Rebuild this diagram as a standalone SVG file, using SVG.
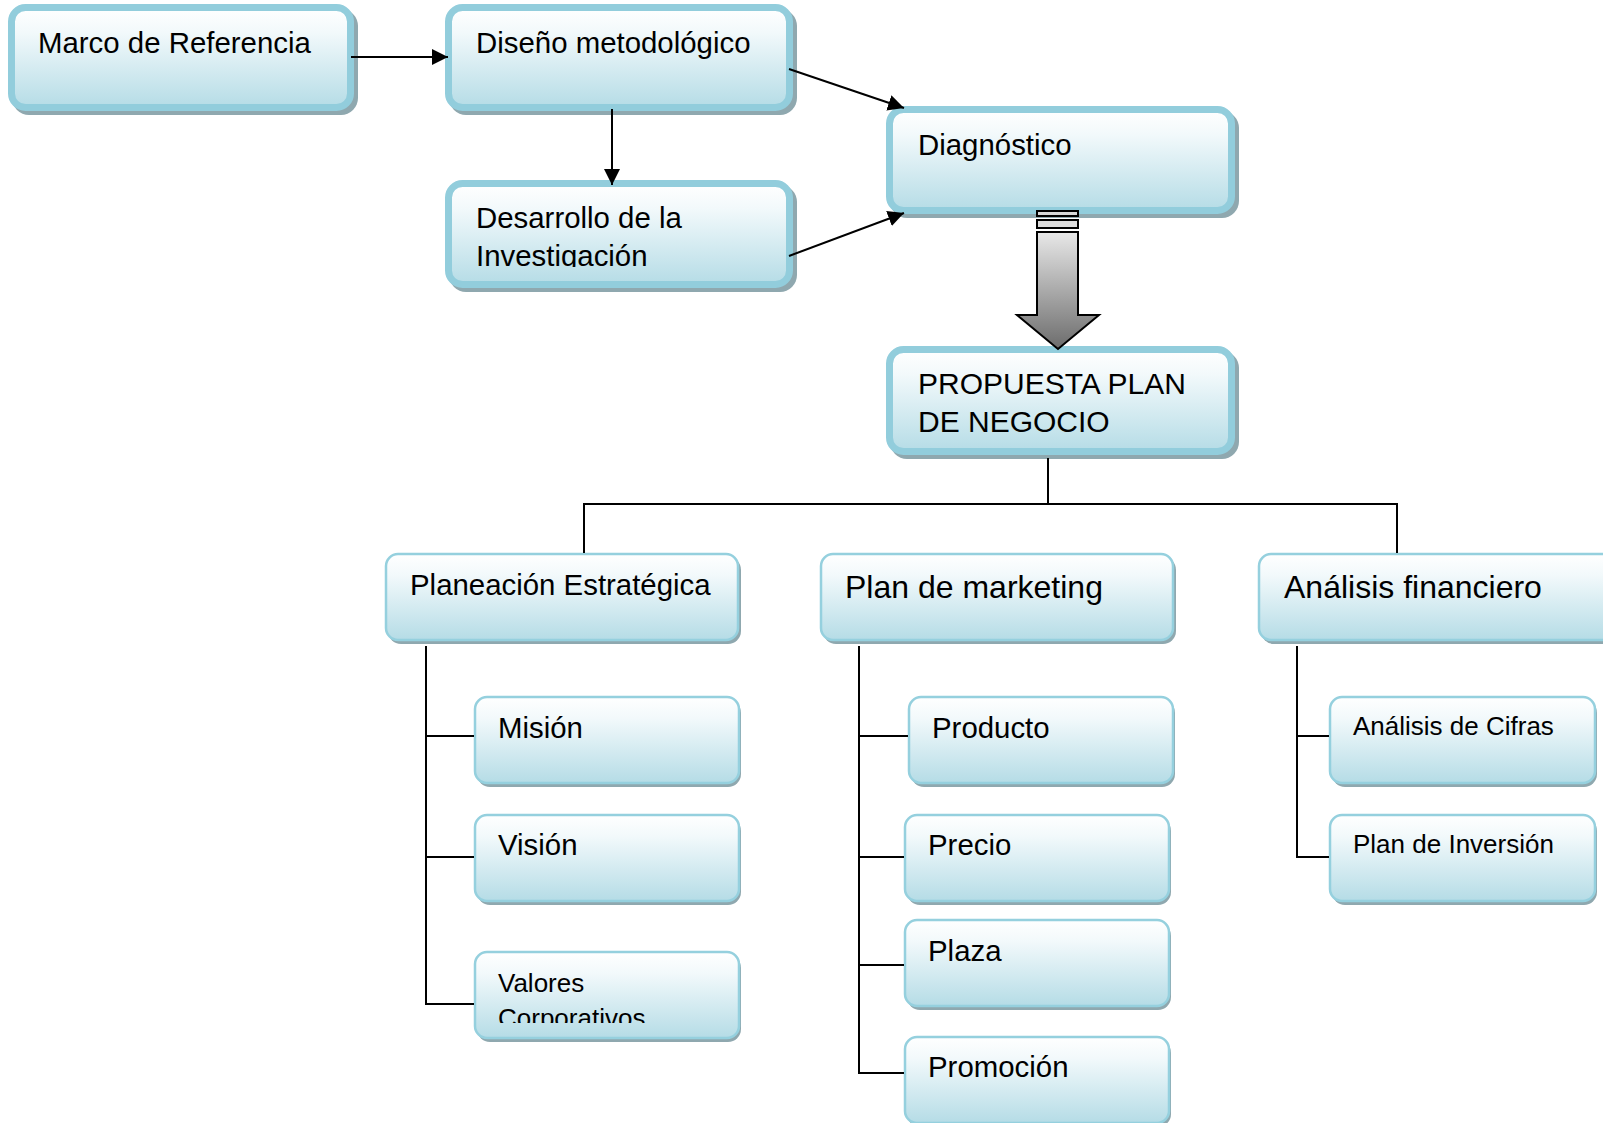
<svg xmlns="http://www.w3.org/2000/svg" width="1603" height="1123" viewBox="0 0 1603 1123">
<defs>
<linearGradient id="gBox" x1="0" y1="0" x2="0" y2="1">
<stop offset="0" stop-color="#ffffff"/>
<stop offset="0.25" stop-color="#f2f9fb"/>
<stop offset="1" stop-color="#b5dce6"/>
</linearGradient>
<linearGradient id="gArrow" x1="0" y1="0" x2="0" y2="1">
<stop offset="0" stop-color="#e8e8e8"/>
<stop offset="1" stop-color="#6c6c6c"/>
</linearGradient>
<marker id="ah" markerUnits="userSpaceOnUse" markerWidth="18" markerHeight="18" refX="16" refY="8" orient="auto">
<path d="M0,0 L16,8 L0,16 Z" fill="#000"/>
</marker>
<clipPath id="clipDes"><rect x="440" y="180" width="360" height="87"/></clipPath>
<clipPath id="clipVal"><rect x="470" y="950" width="280" height="73"/></clipPath>
</defs>
<style>
.sh{fill:#8fa8af}
.big{fill:url(#gBox);stroke:#92cddc;stroke-width:7}
.sm{fill:url(#gBox);stroke:#95d0de;stroke-width:2.5}
.t{font-family:"Liberation Sans",Arial,sans-serif;fill:#000}
.t29{font-size:29.4px}
.t32{font-size:32px}
.t26{font-size:26px}
.ln{fill:none;stroke:#000;stroke-width:2}
</style>

<g id="marco">
<rect class="sh" x="12" y="9" width="346" height="106" rx="17"/>
<rect class="big" x="11.5" y="7.5" width="339" height="100" rx="14"/>
<text class="t t29" x="38" y="53">Marco de Referencia</text>
</g>
<g id="diseno">
<rect class="sh" x="449" y="9" width="348" height="106" rx="17"/>
<rect class="big" x="448.5" y="7.5" width="341" height="100" rx="14"/>
<text class="t t29" x="476" y="53">Diseño metodológico</text>
</g>
<g id="desarrollo">
<rect class="sh" x="449" y="185" width="348" height="107" rx="17"/>
<rect class="big" x="448.5" y="183.5" width="341" height="101" rx="14"/>
<text class="t t29" clip-path="url(#clipDes)"><tspan x="476" y="228">Desarrollo de la</tspan><tspan x="476" y="266">Investigación</tspan></text>
</g>
<g id="diagnostico">
<rect class="sh" x="890" y="111" width="349" height="107" rx="17"/>
<rect class="big" x="889.5" y="109.5" width="342" height="101" rx="14"/>
<text class="t t29" x="918" y="155">Diagnóstico</text>
</g>
<g id="propuesta">
<rect class="sh" x="890" y="351" width="349" height="108" rx="17"/>
<rect class="big" x="889.5" y="349.5" width="342" height="102" rx="14"/>
<text class="t" font-size="30px"><tspan x="918" y="394">PROPUESTA PLAN</tspan><tspan x="918" y="432">DE NEGOCIO</tspan></text>
</g>

<g id="planeacion">
<rect class="sh" x="388" y="557" width="353" height="87" rx="13"/>
<rect class="sm" x="386" y="554" width="352" height="86" rx="12"/>
<text class="t t29" x="410" y="595">Planeación Estratégica</text>
</g>
<g id="marketing">
<rect class="sh" x="823" y="557" width="353" height="87" rx="13"/>
<rect class="sm" x="821" y="554" width="352" height="86" rx="12"/>
<text class="t t32" x="845" y="598">Plan de marketing</text>
</g>
<g id="financiero">
<rect class="sh" x="1261" y="557" width="360" height="87" rx="13"/>
<rect class="sm" x="1259" y="554" width="360" height="86" rx="12"/>
<text class="t t32" x="1284" y="598">Análisis financiero</text>
</g>

<g id="mision">
<rect class="sh" x="477" y="700" width="264" height="87" rx="13"/>
<rect class="sm" x="475" y="697" width="264" height="86" rx="12"/>
<text class="t t29" x="498" y="738">Misión</text>
</g>
<g id="vision">
<rect class="sh" x="477" y="818" width="264" height="87" rx="13"/>
<rect class="sm" x="475" y="815" width="264" height="86" rx="12"/>
<text class="t t29" x="498" y="855">Visión</text>
</g>
<g id="valores">
<rect class="sh" x="477" y="955" width="264" height="87" rx="13"/>
<rect class="sm" x="475" y="952" width="264" height="86" rx="12"/>
<text class="t t26" clip-path="url(#clipVal)"><tspan x="498" y="992">Valores</tspan><tspan x="498" y="1027">Corporativos</tspan></text>
</g>

<g id="producto">
<rect class="sh" x="911" y="700" width="264" height="87" rx="13"/>
<rect class="sm" x="909" y="697" width="264" height="86" rx="12"/>
<text class="t t29" x="932" y="738">Producto</text>
</g>
<g id="precio">
<rect class="sh" x="907" y="818" width="264" height="87" rx="13"/>
<rect class="sm" x="905" y="815" width="264" height="86" rx="12"/>
<text class="t t29" x="928" y="855">Precio</text>
</g>
<g id="plaza">
<rect class="sh" x="907" y="923" width="264" height="87" rx="13"/>
<rect class="sm" x="905" y="920" width="264" height="86" rx="12"/>
<text class="t t29" x="928" y="961">Plaza</text>
</g>
<g id="promocion">
<rect class="sh" x="907" y="1040" width="264" height="87" rx="13"/>
<rect class="sm" x="905" y="1037" width="264" height="86" rx="12"/>
<text class="t t29" x="928" y="1077">Promoción</text>
</g>

<g id="cifras">
<rect class="sh" x="1332" y="700" width="265" height="87" rx="13"/>
<rect class="sm" x="1330" y="697" width="265" height="86" rx="12"/>
<text class="t t26" x="1353" y="735">Análisis de Cifras</text>
</g>
<g id="inversion">
<rect class="sh" x="1332" y="818" width="265" height="87" rx="13"/>
<rect class="sm" x="1330" y="815" width="265" height="86" rx="12"/>
<text class="t t26" x="1353" y="853">Plan de Inversión</text>
</g>

<g id="connectors">
<line class="ln" x1="351" y1="57" x2="448" y2="57" marker-end="url(#ah)"/>
<line class="ln" x1="612" y1="109" x2="612" y2="185" marker-end="url(#ah)"/>
<line class="ln" x1="789" y1="69" x2="904" y2="108" marker-end="url(#ah)"/>
<line class="ln" x1="789" y1="256" x2="904" y2="213" marker-end="url(#ah)"/>
<polyline class="ln" points="1048,458 1048,504"/>
<polyline class="ln" points="584,553 584,504 1397,504 1397,553"/>
<polyline class="ln" points="426,646 426,1004 474,1004"/>
<line class="ln" x1="426" y1="736" x2="474" y2="736"/>
<line class="ln" x1="426" y1="857" x2="474" y2="857"/>
<polyline class="ln" points="859,646 859,1073 904,1073"/>
<line class="ln" x1="859" y1="736" x2="908" y2="736"/>
<line class="ln" x1="859" y1="857" x2="904" y2="857"/>
<line class="ln" x1="859" y1="965" x2="904" y2="965"/>
<polyline class="ln" points="1297,646 1297,857 1329,857"/>
<line class="ln" x1="1297" y1="736" x2="1329" y2="736"/>
</g>

<g id="block-arrow" stroke="#000" stroke-width="2" fill="url(#gArrow)">
<rect x="1037" y="211" width="41" height="5" fill="#d8d8d8"/>
<rect x="1037" y="220" width="41" height="8" fill="#dcdcdc"/>
<path d="M1037,232 L1078,232 L1078,315 L1099,315 L1058,349 L1017,315 L1037,315 Z"/>
</g>
</svg>
